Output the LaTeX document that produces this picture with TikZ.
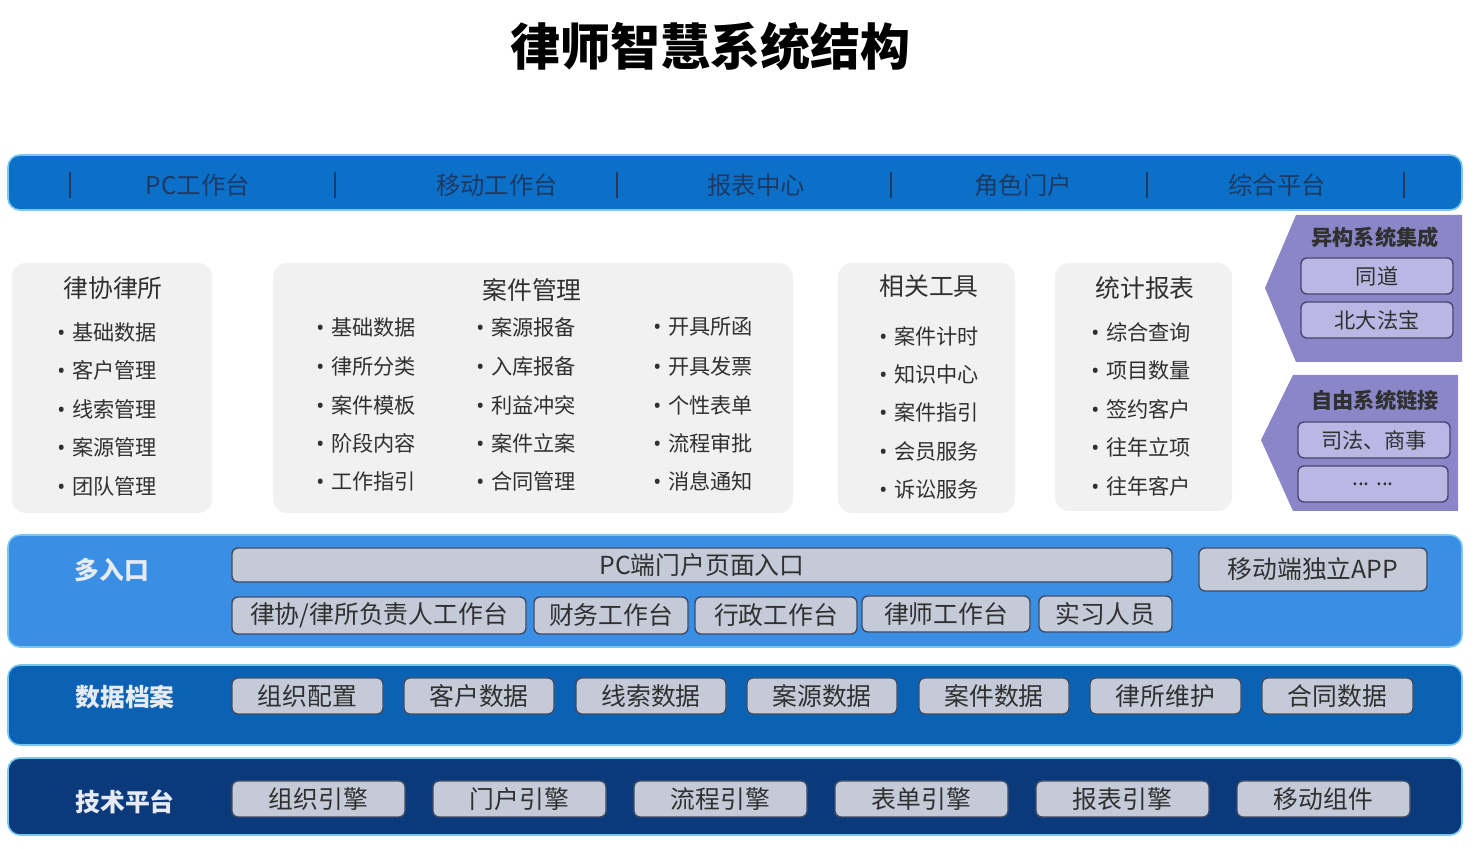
\documentclass[tikz,border=0pt]{standalone}
\usepackage{fontspec}
\setmainfont{Noto Sans CJK SC}
\newfontfamily\bulf{Noto Sans}
\definecolor{topblue}{RGB}{12,112,200}
\definecolor{bandA}{RGB}{58,142,228}
\definecolor{bandB}{RGB}{11,98,180}
\definecolor{bandC}{RGB}{10,58,124}
\definecolor{bandedge}{RGB}{120,200,240}
\definecolor{boxfill}{RGB}{196,202,216}
\definecolor{boxedge}{RGB}{64,76,100}
\definecolor{purp}{RGB}{138,134,200}
\definecolor{purpbox}{RGB}{186,183,228}
\definecolor{purpedge}{RGB}{72,70,112}
\definecolor{panelfill}{RGB}{241,241,241}
\definecolor{txt}{RGB}{48,48,48}
\definecolor{toptxt}{RGB}{28,58,100}
\definecolor{labtxt}{RGB}{230,234,242}
\newcommand\rbox[7]{\node[#1, minimum width={(#4-#2)*0.5pt}, minimum height={(#5-#3)*0.5pt}] (#6) at ({(#2+#4)/2},{(#3+#5)/2}) {#7};}
\tikzset{
  bandst/.style={draw=bandedge, line width=0.8pt, rounded corners=6pt, inner sep=0pt, outer sep=0pt},
  boxst/.style={draw=boxedge, line width=0.7pt, fill=boxfill, rounded corners=3pt, inner sep=0pt, outer sep=0pt, text=txt, font=\fontsize{12.4}{14}\selectfont},
  pboxst/.style={draw=purpedge, line width=0.7pt, fill=purpbox, rounded corners=3pt, inner sep=0pt, outer sep=0pt, text=txt, font=\fontsize{10.6}{12}\selectfont},
  panelst/.style={fill=panelfill, rounded corners=7pt, inner sep=0pt, outer sep=0pt},
  toptext/.style={text=toptxt, font=\fontsize{12.2}{14}\selectfont},
  labst/.style={text=labtxt, font=\fontsize{12.4}{14}\selectfont\bfseries},
  ptitle/.style={text=txt, font=\fontsize{12.4}{14}\selectfont},
  itemst/.style={text=txt, anchor=west, inner sep=0pt, font=\fontsize{10.6}{12}\selectfont},
  purptitle/.style={text=txt, font=\fontsize{10.6}{12}\selectfont\bfseries},
  sepline/.style={draw=toptxt, line width=1.2pt}
}
\newcommand\itm[4]{\node[itemst] (#1) at (#2,#3) {{\bulf\bfseries •}\hspace{3.5pt}#4};}
\begin{document}
\begin{tikzpicture}[x=0.5pt,y=-0.5pt]
\useasboundingbox[fill=white] (0,0) rectangle (1474,849);
% title
\node[font=\fontsize{25}{28}\selectfont\bfseries, text=black] (title) at (710,46) {律师智慧系统结构};
% top bar
\rbox{bandst,fill=topblue}{8}{155}{1462}{210}{topbar}{}
\foreach \sx in {70,335,617,891,1147,1404} \draw[sepline] (\sx,172) -- (\sx,198);
\node[toptext] (t1) at (198,185) {PC工作台};
\node[toptext] (t2) at (497,185) {移动工作台};
\node[toptext] (t3) at (756,185) {报表中心};
\node[toptext] (t4) at (1023,185) {角色门户};
\node[toptext] (t5) at (1277,185) {综合平台};
% panels
\rbox{panelst}{12}{263}{212}{513}{pA}{}
\rbox{panelst}{273}{263}{793}{513}{pB}{}
\rbox{panelst}{838}{263}{1015}{513}{pC}{}
\rbox{panelst}{1055}{263}{1232}{511}{pD}{}
\node[ptitle] (pAt) at (113,288) {律协律所};
\itm{a1}{57}{332}{基础数据}
\itm{a2}{57}{370}{客户管理}
\itm{a3}{57}{409}{线索管理}
\itm{a4}{57}{447}{案源管理}
\itm{a5}{57}{486}{团队管理}
\node[ptitle] (pBt) at (532,290) {案件管理};
\itm{b1}{316}{327}{基础数据}
\itm{b2}{316}{366}{律所分类}
\itm{b3}{316}{405}{案件模板}
\itm{b4}{316}{443}{阶段内容}
\itm{b5}{316}{481}{工作指引}
\itm{c1}{476}{327}{案源报备}
\itm{c2}{476}{366}{入库报备}
\itm{c3}{476}{405}{利益冲突}
\itm{c4}{476}{443}{案件立案}
\itm{c5}{476}{481}{合同管理}
\itm{d1}{653}{327}{开具所函}
\itm{d2}{653}{366}{开具发票}
\itm{d3}{653}{405}{个性表单}
\itm{d4}{653}{443}{流程审批}
\itm{d5}{653}{481}{消息通知}
\node[ptitle] (pCt) at (929,286) {相关工具};
\itm{e1}{879}{336}{案件计时}
\itm{e2}{879}{374}{知识中心}
\itm{e3}{879}{412}{案件指引}
\itm{e4}{879}{451}{会员服务}
\itm{e5}{879}{489}{诉讼服务}
\node[ptitle] (pDt) at (1145,288) {统计报表};
\itm{f1}{1091}{332}{综合查询}
\itm{f2}{1091}{370}{项目数量}
\itm{f3}{1091}{409}{签约客户}
\itm{f4}{1091}{447}{往年立项}
\itm{f5}{1091}{486}{往年客户}
% purple arrows
\fill[purp] (1296,215) -- (1462,215) -- (1462,362) -- (1296,362) -- (1265,288) -- cycle;
\node[purptitle] (g0) at (1375,237) {异构系统集成};
\rbox{pboxst}{1301}{258}{1453}{294}{g1}{同道}
\rbox{pboxst}{1301}{302}{1453}{338}{g2}{北大法宝}
\fill[purp] (1293,375) -- (1458,375) -- (1458,511) -- (1293,511) -- (1261,440) -- cycle;
\node[purptitle] (h0) at (1375,400) {自由系统链接};
\rbox{pboxst}{1298}{422}{1450}{458}{h1}{司法、商事}
\rbox{pboxst}{1298}{466}{1448}{502}{h2}{\raisebox{-2pt}{... ...}}
% band 1
\rbox{bandst,fill=bandA}{8}{535}{1462}{647}{bandA}{}
\node[labst] (lA) at (112,570) {多入口};
\rbox{boxst}{232}{548}{1172}{582}{m0}{PC端门户页面入口}
\rbox{boxst}{232}{597}{526}{634}{m1}{律协/律所负责人工作台}
\rbox{boxst}{534}{597}{688}{634}{m2}{财务工作台}
\rbox{boxst}{695}{597}{857}{634}{m3}{行政工作台}
\rbox{boxst}{862}{596}{1030}{632}{m4}{律师工作台}
\rbox{boxst}{1039}{596}{1172}{632}{m5}{实习人员}
\rbox{boxst}{1199}{548}{1427}{591}{m6}{移动端独立APP}
% band 2
\rbox{bandst,fill=bandB}{8}{665}{1462}{745}{bandB}{}
\node[labst] (lB) at (125,697) {数据档案};
\rbox{boxst}{232}{678}{383}{714}{n1}{组织配置}
\rbox{boxst}{404}{678}{554}{714}{n2}{客户数据}
\rbox{boxst}{576}{678}{726}{714}{n3}{线索数据}
\rbox{boxst}{747}{678}{897}{714}{n4}{案源数据}
\rbox{boxst}{919}{678}{1069}{714}{n5}{案件数据}
\rbox{boxst}{1090}{678}{1241}{714}{n6}{律所维护}
\rbox{boxst}{1262}{678}{1413}{714}{n7}{合同数据}
% band 3
\rbox{bandst,fill=bandC}{8}{758}{1462}{835}{bandC}{}
\node[labst] (lC) at (125,802) {技术平台};
\rbox{boxst}{232}{781}{405}{817}{o1}{组织引擎}
\rbox{boxst}{433}{781}{606}{817}{o2}{门户引擎}
\rbox{boxst}{634}{781}{807}{817}{o3}{流程引擎}
\rbox{boxst}{835}{781}{1008}{817}{o4}{表单引擎}
\rbox{boxst}{1036}{781}{1209}{817}{o5}{报表引擎}
\rbox{boxst}{1237}{781}{1410}{817}{o6}{移动组件}
\end{tikzpicture}
\end{document}
